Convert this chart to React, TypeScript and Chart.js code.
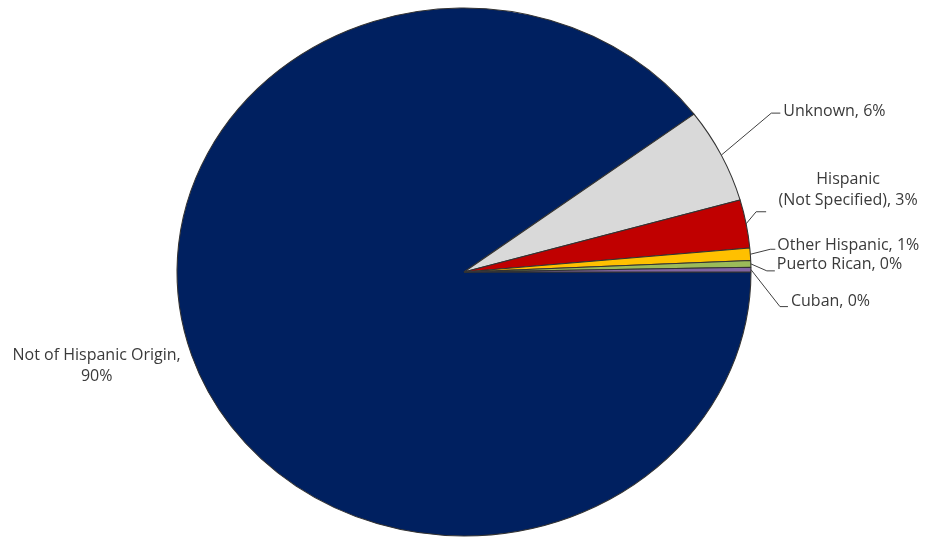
import React, { useEffect, useRef } from 'react';
import { Chart, registerables } from 'chart.js';

Chart.register(...registerables);

// ---- data ----
const categories = [
  'Not of Hispanic Origin',
  'Unknown',
  'Hispanic (Not Specified)',
  'Other Hispanic',
  'Puerto Rican',
  'Cuban',
];
const values = [89.8, 5.8, 2.95, 0.76, 0.4, 0.29];
const colors = ['#002060', '#D9D9D9', '#C00000', '#FFC000', '#9BBB59', '#8064A2'];
// label text lines, {p} replaced by the percentage
const labelFormats = [
  ['Not of Hispanic Origin,', '{p}'],
  ['Unknown, {p}'],
  ['Hispanic', '(Not Specified), {p}'],
  ['Other Hispanic, {p}'],
  ['Puerto Rican, {p}'],
  ['Cuban, {p}'],
];

// ---- layout (offsets from each slice's edge anchor) ----
type LabelLayout = {
  elbow?: [number, number];
  end?: [number, number];
  text: [number, number];
  align: CanvasTextAlign;
};
const labelLayouts: LabelLayout[] = [
  { text: [-95, 0], align: 'center' },
  { elbow: [50, -42], end: [59, -42], text: [62, -44], align: 'left' },
  { elbow: [10, -12], end: [20, -12], text: [102, -44], align: 'center' },
  { elbow: [20, -5], end: [25, -5], text: [27, -9], align: 'left' },
  { elbow: [16, 7], end: [24, 7], text: [26, 1], align: 'left' },
  { elbow: [29, 37], end: [37, 37], text: [40, 32], align: 'left' },
];
const STRETCH_X = 1.087;
const LINE_HEIGHT = 21;
const FONT = '16px "Open Sans"';
const TEXT_COLOR = '#3a3a3a';

const ellipseLabelsPlugin = {
  id: 'ellipseLabels',
  beforeDatasetsDraw(chart: any) {
    const arc = chart.getDatasetMeta(0).data[0];
    if (!arc) return;
    const ctx = chart.ctx;
    ctx.save();
    ctx.translate(arc.x, arc.y);
    ctx.scale(STRETCH_X, 1);
    ctx.translate(-arc.x, -arc.y);
  },
  afterDatasetsDraw(chart: any) {
    const ctx = chart.ctx;
    ctx.restore();
    const meta = chart.getDatasetMeta(0);
    const data = chart.data.datasets[0].data as number[];
    const total = data.reduce((a, b) => a + b, 0);
    ctx.save();
    ctx.font = FONT;
    ctx.fillStyle = TEXT_COLOR;
    ctx.strokeStyle = '#404040';
    ctx.lineWidth = 1;
    ctx.textBaseline = 'middle';
    meta.data.forEach((arc: any, i: number) => {
      const { x, y, startAngle, endAngle, outerRadius } = arc.getProps(
        ['x', 'y', 'startAngle', 'endAngle', 'outerRadius'],
        true
      );
      const mid = (startAngle + endAngle) / 2;
      const ax = x + STRETCH_X * outerRadius * Math.cos(mid);
      const ay = y + outerRadius * Math.sin(mid);
      const lay = labelLayouts[i];
      if (lay.elbow && lay.end) {
        ctx.beginPath();
        ctx.moveTo(ax, ay);
        ctx.lineTo(ax + lay.elbow[0], ay + lay.elbow[1]);
        ctx.lineTo(ax + lay.end[0], ay + lay.end[1]);
        ctx.stroke();
      }
      const pct = Math.round((data[i] / total) * 100) + '%';
      const lines = labelFormats[i].map((s) => s.replace('{p}', pct));
      ctx.textAlign = lay.align;
      lines.forEach((line, k) => {
        ctx.fillText(line, ax + lay.text[0], ay + lay.text[1] + k * LINE_HEIGHT);
      });
    });
    ctx.restore();
  },
};

export default function App() {
  const canvasRef = useRef<HTMLCanvasElement | null>(null);

  useEffect(() => {
    document.body.style.margin = '0';
    const canvas = canvasRef.current;
    if (!canvas) return;
    const chart = new Chart(canvas, {
      type: 'pie',
      data: {
        labels: categories,
        datasets: [
          {
            data: values,
            backgroundColor: colors,
            borderColor: '#333333',
            borderWidth: 1,
            radius: 264,
            clip: false,
          } as any,
        ],
      },
      options: {
        responsive: false,
        animation: false,
        rotation: 90,
        layout: { padding: { left: 0, right: 10, top: 7, bottom: 0 } },
        plugins: {
          legend: { display: false },
          tooltip: { enabled: false },
        },
      },
      plugins: [ellipseLabelsPlugin],
    });
    return () => chart.destroy();
  }, []);

  return (
    <div style={{ width: 938, height: 537, position: 'relative', background: '#fff' }}>
      <canvas ref={canvasRef} width={938} height={537} style={{ width: 938, height: 537 }} />
    </div>
  );
}
